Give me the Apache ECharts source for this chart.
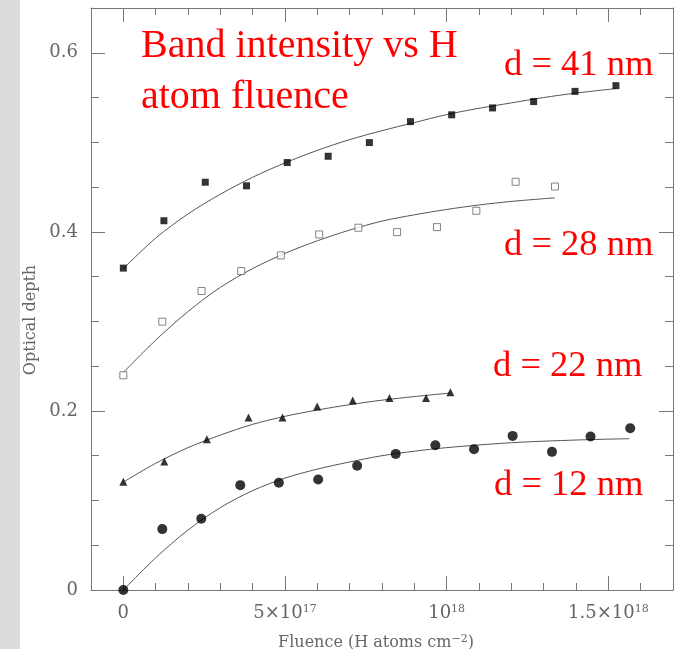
<!DOCTYPE html>
<html>
<head>
<meta charset="utf-8">
<script src="https://cdn.jsdelivr.net/npm/echarts@6/dist/echarts.min.js"></script>
<style>
  html, body { margin: 0; padding: 0; background: #fff; }
  #root { width: 690px; height: 649px; }
</style>
</head>
<body>
<div id="root"></div>
<script>
// fluence in units of 1e18 H atoms cm^-2
const d41X = [0, 0.1255, 0.2534, 0.381, 0.5068, 0.6335, 0.761, 0.888, 1.0155, 1.142, 1.269, 1.397, 1.5235];
const d41Y = [0.3595, 0.4124, 0.4554, 0.4514, 0.4774, 0.4844, 0.4997, 0.5231, 0.5307, 0.5384, 0.5455, 0.5569, 0.5633];

const d28X = [0, 0.1205, 0.242, 0.3646, 0.487, 0.6057, 0.727, 0.8467, 0.97, 1.0918, 1.2133, 1.335];
const d28Y = [0.2398, 0.2997, 0.3339, 0.3562, 0.3737, 0.3971, 0.4046, 0.3997, 0.4053, 0.4235, 0.4559, 0.4506];

const d22X = [0, 0.1267, 0.2584, 0.3872, 0.4923, 0.5995, 0.7095, 0.823, 0.9363, 1.0114];
const d22Y = [0.1208, 0.1435, 0.1684, 0.1926, 0.1926, 0.2049, 0.2116, 0.2145, 0.2145, 0.2209];

const d12X = [0, 0.1205, 0.241, 0.3616, 0.481, 0.6026, 0.7231, 0.8424, 0.965, 1.0847, 1.204, 1.3257, 1.445, 1.5677];
const d12Y = [0, 0.068, 0.0795, 0.1171, 0.1197, 0.1235, 0.1387, 0.152, 0.1617, 0.1573, 0.1721, 0.1543, 0.1714, 0.1807];

// fitted curves
const fit41X = [0, 0.1, 0.2, 0.3, 0.4, 0.5, 0.6, 0.7, 0.8, 0.9, 1.0, 1.1, 1.2, 1.3, 1.4, 1.524];
const fit41Y = [0.359, 0.393, 0.420, 0.442, 0.461, 0.477, 0.491, 0.503, 0.513, 0.522, 0.531, 0.538, 0.544, 0.550, 0.555, 0.560];
const fit28X = [0, 0.1, 0.2, 0.3, 0.4, 0.5, 0.6, 0.7, 0.8, 0.9, 1.0, 1.1, 1.2, 1.335];
const fit28Y = [0.243, 0.279, 0.311, 0.338, 0.359, 0.376, 0.390, 0.402, 0.412, 0.419, 0.425, 0.430, 0.434, 0.438];
const fit22X = [0, 0.1, 0.2, 0.3, 0.4, 0.5, 0.6, 0.7, 0.8, 0.9, 1.011];
const fit22Y = [0.1205, 0.1415, 0.159, 0.173, 0.185, 0.194, 0.201, 0.207, 0.212, 0.216, 0.220];
const fit12X = [0, 0.1, 0.2, 0.3, 0.4, 0.5, 0.6, 0.7, 0.8, 0.9, 1.0, 1.2, 1.4, 1.565];
const fit12Y = [0, 0.036, 0.067, 0.092, 0.111, 0.125, 0.135, 0.143, 0.150, 0.155, 0.159, 0.1645, 0.1675, 0.169];

const xMajorTicks = [0, 0.5, 1, 1.5];
const xTickLabels = ['0', '5×10{s|17}', '10{s|18}', '1.5×10{s|18}'];
const xMinorTicks = [0, 0.1, 0.2, 0.3, 0.4, 0.5, 0.6, 0.7, 0.8, 0.9, 1, 1.1, 1.2, 1.3, 1.4, 1.5, 1.6];
const yMajorTicks = [0, 0.2, 0.4, 0.6];
const yTickLabels = ['0', '0.2', '0.4', '0.6'];
const yMinorTicks = [0, 0.05, 0.1, 0.15, 0.2, 0.25, 0.3, 0.35, 0.4, 0.45, 0.5, 0.55, 0.6];

const zip = (xs, ys) => xs.map((x, i) => [x, ys[i]]);

const axisGray = '#777';
const labelFont = 'DejaVu Serif';
const redText = (txt, x, y, size) => ({
  type: 'text', x, y, z: 100,
  style: { text: txt, fill: '#ff0000', font: size + 'px "Liberation Serif", "Times New Roman", serif', verticalAlign: 'middle', align: 'left' }
});

const xBase = (pos, ticks, len, showLine) => ({
  type: 'value', position: pos, min: -0.1, max: 1.7,
  axisLine: { show: showLine, onZero: false, lineStyle: { color: axisGray, width: 1 } },
  axisTick: { show: true, inside: true, length: len, customValues: ticks, lineStyle: { color: axisGray } },
  axisLabel: { show: false },
  splitLine: { show: false }
});
const yBase = (pos, ticks, len, showLine) => ({
  type: 'value', position: pos, min: 0, max: 0.65,
  axisLine: { show: showLine, onZero: false, lineStyle: { color: axisGray, width: 1 } },
  axisTick: { show: true, inside: true, length: len, customValues: ticks, lineStyle: { color: axisGray } },
  axisLabel: { show: false },
  splitLine: { show: false }
});

const xMain = xBase('bottom', xMajorTicks, 14, true);
xMain.axisLabel = {
  show: true, customValues: xMajorTicks, margin: 14,
  color: '#666', fontFamily: labelFont, fontSize: 18,
  formatter: v => xTickLabels[xMajorTicks.indexOf(v)] || '',
  rich: { s: { fontSize: 11, verticalAlign: 'top', color: '#666', fontFamily: labelFont, padding: [0, 0, 8, 0] } }
};
xMain.name = 'Fluence (H atoms cm{s|−2})';
xMain.nameLocation = 'middle';
xMain.nameGap = 44;
xMain.nameTextStyle = {
  color: '#666', fontFamily: labelFont, fontSize: 16, padding: [0, 12, 0, 0],
  rich: { s: { fontSize: 11, verticalAlign: 'top', color: '#666', fontFamily: labelFont, padding: [0, 0, 6, 0] } }
};

const yMain = yBase('left', yMajorTicks, 14, true);
yMain.axisLabel = {
  show: true, customValues: yMajorTicks, margin: 13,
  color: '#666', fontFamily: labelFont, fontSize: 18,
  formatter: v => yTickLabels[yMajorTicks.indexOf(v)] || ''
};
yMain.name = 'Optical depth';
yMain.nameLocation = 'middle';
yMain.nameGap = 52;
yMain.nameTextStyle = { color: '#666', fontFamily: labelFont, fontSize: 16, padding: [0, 42, 0, 0] };

const lineSeries = (xs, ys) => ({
  type: 'line', data: zip(xs, ys), smooth: 0.3, showSymbol: false, symbol: 'none', z: 1,
  lineStyle: { color: '#555', width: 1 }, silent: true
});

const option = {
  animation: false,
  backgroundColor: '#fff',
  grid: { left: 91, right: 17, top: 8, bottom: 59, containLabel: false, outerBoundsMode: 'none' },
  xAxis: [
    xMain,
    xBase('top', xMajorTicks, 14, true),
    xBase('bottom', xMinorTicks, 7, false),
    xBase('top', xMinorTicks, 7, false)
  ],
  yAxis: [
    yMain,
    yBase('right', yMajorTicks, 14, true),
    yBase('left', yMinorTicks, 8, false),
    yBase('right', yMinorTicks, 8, false)
  ],
  series: [
    lineSeries(fit41X, fit41Y),
    lineSeries(fit28X, fit28Y),
    lineSeries(fit22X, fit22Y),
    lineSeries(fit12X, fit12Y),
    { type: 'scatter', name: 'd = 41 nm', data: zip(d41X, d41Y), symbol: 'rect', symbolSize: 7, z: 3,
      itemStyle: { color: '#000' } },
    { type: 'scatter', name: 'd = 28 nm', data: zip(d28X, d28Y), symbol: 'rect', symbolSize: 7, z: 3,
      itemStyle: { color: '#fff', borderColor: '#666', borderWidth: 1 } },
    { type: 'scatter', name: 'd = 22 nm', data: zip(d22X, d22Y), symbol: 'triangle', symbolSize: 8, z: 3,
      itemStyle: { color: '#000' } },
    { type: 'scatter', name: 'd = 12 nm', data: zip(d12X, d12Y), symbol: 'circle', symbolSize: 10, z: 3,
      itemStyle: { color: '#000' } }
  ],
  graphic: [
    { type: 'rect', left: 0, top: 0, z: -10, shape: { width: 20, height: 649 }, style: { fill: '#dcdcdc' } },
    redText('Band intensity vs H', 141, 46, 40),
    redText('atom fluence', 141, 97.5, 40),
    redText('d = 41 nm', 504, 65.5, 36.5),
    redText('d = 28 nm', 504, 245.5, 36.5),
    redText('d = 22 nm', 493, 366.5, 36.5),
    redText('d = 12 nm', 494, 485, 36.5)
  ]
};

const chart = echarts.init(document.getElementById('root'));
chart.setOption(option);
</script>
</body>
</html>
